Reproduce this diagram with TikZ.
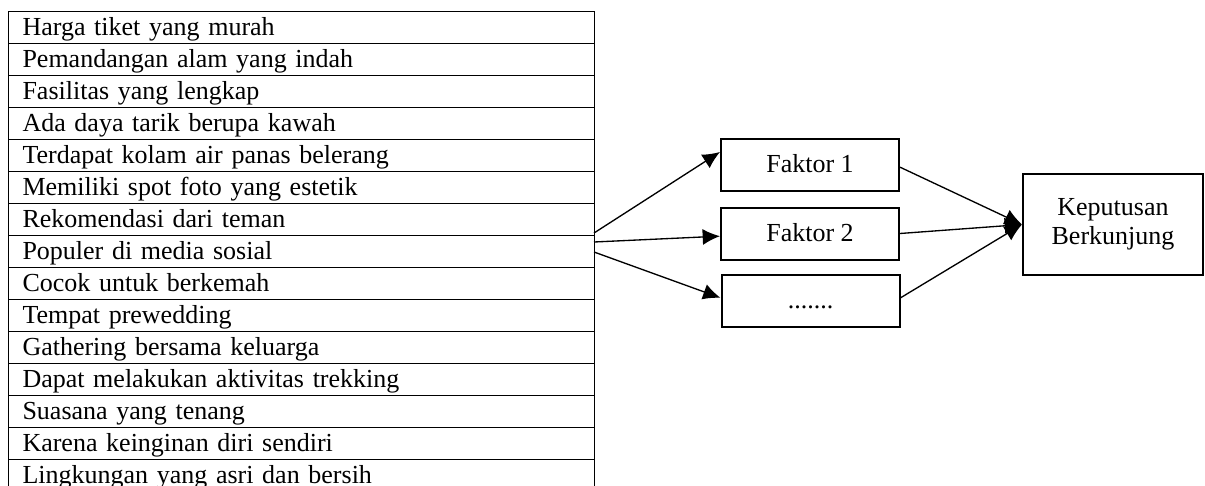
\documentclass[tikz,border=0pt]{standalone}
\usepackage{fontspec}
\setmainfont{Liberation Serif}
\usetikzlibrary{arrows.meta}

\begin{document}
\begin{tikzpicture}[x=0.75pt, y=-0.75pt,
    font=\fontsize{19.5}{21.75}\selectfont,
    row/.style = {draw, line width=0.75pt, anchor=north west, minimum width=439.5pt, minimum height=24pt, inner xsep=10.5pt, inner ysep=1pt, text width=418.5pt, align=left, text height=16pt, text depth=4pt},
    box/.style = {draw, line width=1.5pt, minimum width=133.5pt, minimum height=39pt, text height=16pt, text depth=4pt},
    arrow/.style = {line width=1pt, -{Latex[length=13pt, width=12pt]}}]

    \clip (0,0) rectangle (1205,485);

    \node[row] (r1) at (8, 11) {Harga tiket yang murah};
    \node[row] (r2) at (8, 43) {Pemandangan alam yang indah};
    \node[row] (r3) at (8, 75) {Fasilitas yang lengkap};
    \node[row] (r4) at (8, 107) {Ada daya tarik berupa kawah};
    \node[row] (r5) at (8, 139) {Terdapat kolam air panas belerang};
    \node[row] (r6) at (8, 171) {Memiliki spot foto yang estetik};
    \node[row] (r7) at (8, 203) {Rekomendasi dari teman};
    \node[row] (r8) at (8, 235) {Populer di media sosial};
    \node[row] (r9) at (8, 267) {Cocok untuk berkemah};
    \node[row] (r10) at (8, 299) {Tempat prewedding};
    \node[row] (r11) at (8, 331) {Gathering bersama keluarga};
    \node[row] (r12) at (8, 363) {Dapat melakukan aktivitas trekking};
    \node[row] (r13) at (8, 395) {Suasana yang tenang};
    \node[row] (r14) at (8, 427) {Karena keinginan diri sendiri};
    \node[row] (r15) at (8, 459) {Lingkungan yang asri dan bersih};

    \coordinate (s1) at (594, 233);
    \coordinate (s2) at (594, 242);
    \coordinate (s3) at (594, 252);

    \node[box] (f1) at (810, 164.5) {Faktor 1};
    \node[box] (f2) at (810, 233.5) {Faktor 2};
    \node[box] (f3) at (810.5, 300.5) {.......};
    \node[draw, line width=1.5pt, minimum width=135pt, minimum height=75.75pt, align=center] (k) at (1113, 224.5) {Keputusan\\Berkunjung};

    \draw[arrow] (s1) -- ([yshift=9.4pt]f1.west);
    \draw[arrow] (s2) -- ([yshift=-2pt]f2.west);
    \draw[arrow] (s3) -- ([yshift=2pt]f3.west);

    \draw[arrow] ([yshift=-2pt]f1.east) -- (k.west);
    \draw[arrow] (f2.east) -- (k.west);
    \draw[arrow] ([yshift=2pt]f3.east) -- (k.west);

\end{tikzpicture}
\end{document}
